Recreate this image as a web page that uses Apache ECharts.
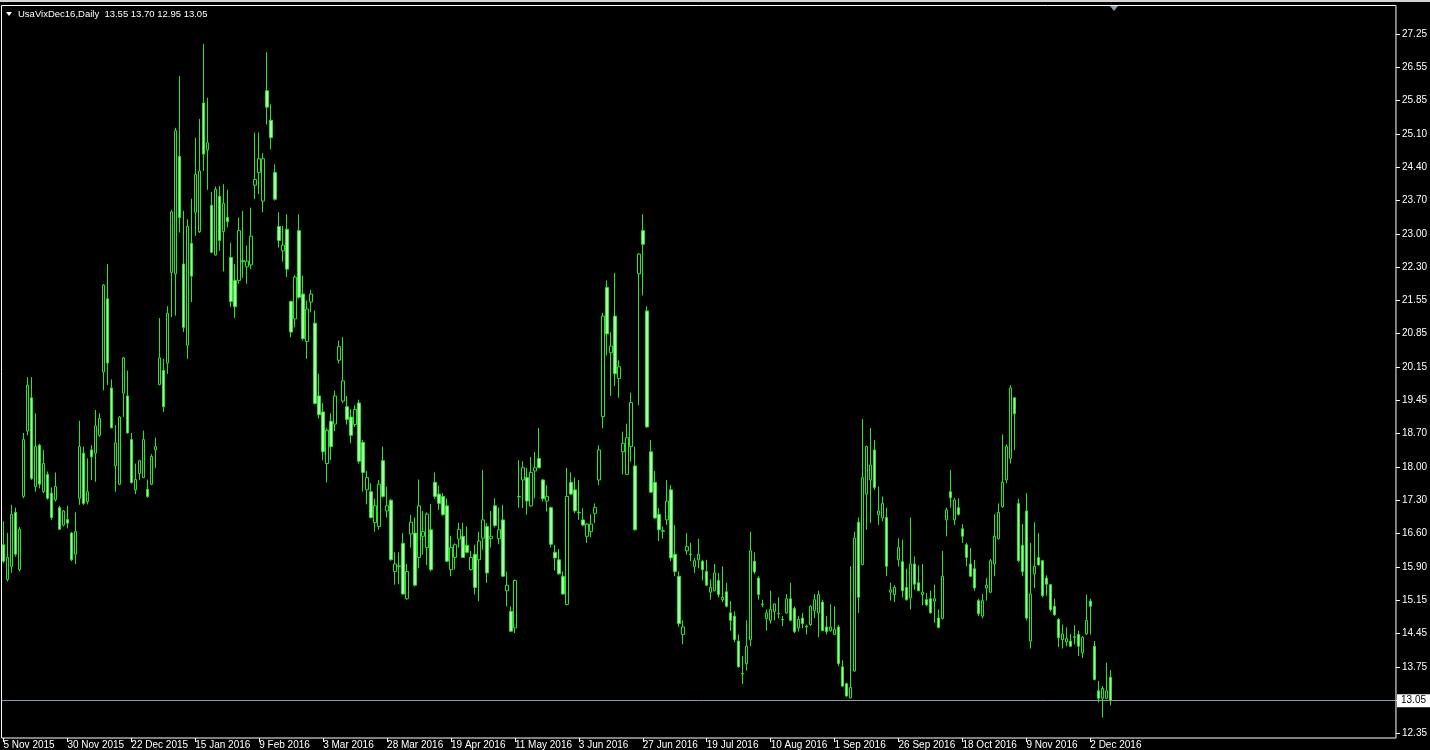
<!DOCTYPE html>
<html><head><meta charset="utf-8">
<script src="https://cdn.jsdelivr.net/npm/echarts@6/dist/echarts.min.js"></script>
<style>html,body{margin:0;padding:0;background:#000;overflow:hidden}#c{width:1430px;height:750px}</style>
</head><body><div id="c"></div>
<script>
const symbolName = 'UsaVixDec16,Daily';
const xTickLabels = ['5 Nov 2015','30 Nov 2015','22 Dec 2015','15 Jan 2016','9 Feb 2016','3 Mar 2016','28 Mar 2016','19 Apr 2016','11 May 2016','3 Jun 2016','27 Jun 2016','19 Jul 2016','10 Aug 2016','1 Sep 2016','26 Sep 2016','18 Oct 2016','9 Nov 2016','2 Dec 2016'];
const barsPerLabel = 16;
const yTickLabels = ['12.35','13.05','13.75','14.45','15.15','15.90','16.60','17.30','18.00','18.70','19.45','20.15','20.85','21.55','22.30','23.00','23.70','24.40','25.10','25.85','26.55','27.25'];

const openV = [
16.37,15.63,15.91,17.06,15.84,17.40,18.79,19.50,17.61,18.49,
17.50,17.87,17.47,17.33,17.16,16.79,16.91,16.62,16.17,17.36,
18.32,17.29,18.39,18.32,18.70,20.05,21.61,19.71,18.05,17.66,
19.60,19.54,18.61,17.54,17.89,17.80,17.55,17.66,18.39,19.78,
20.08,20.24,22.17,22.14,24.64,22.35,20.62,22.79,23.45,23.04,
25.78,24.78,23.60,22.54,23.79,23.04,23.34,22.49,22.00,22.00,
22.42,22.29,22.33,24.03,24.30,23.69,26.04,25.41,24.30,23.15,
22.63,23.09,21.55,21.18,23.06,21.71,20.70,21.54,21.09,19.54,
19.20,18.10,19.00,18.94,20.30,19.43,19.31,19.09,18.93,19.39,
18.55,17.54,17.50,16.84,16.76,18.16,17.09,17.32,15.80,15.92,
16.40,15.22,16.60,16.62,16.10,16.55,16.31,16.69,17.70,17.45,
17.40,17.20,15.84,16.10,16.49,16.55,16.36,15.84,16.17,16.05,
16.51,16.76,16.50,17.20,16.50,16.90,15.39,14.95,14.60,17.40,
17.75,17.80,17.20,17.94,18.21,17.75,17.30,17.16,16.21,16.05,
15.70,15.10,17.70,17.54,17.06,16.90,16.55,16.65,17.04,17.75,
19.10,21.85,20.46,21.24,19.91,18.35,17.87,18.46,18.05,22.14,
23.06,21.35,18.35,17.70,17.02,16.67,16.90,17.54,16.17,15.70,
14.46,16.24,16.17,15.91,16.05,16.02,15.80,15.36,15.39,15.61,
15.20,15.37,14.92,14.85,14.32,13.63,13.84,14.35,16.02,15.66,
15.11,14.80,14.76,14.95,14.90,14.78,14.92,15.22,15.01,14.60,
14.81,14.63,14.67,14.97,14.92,15.15,14.62,14.54,14.46,14.62,
13.77,13.41,13.11,13.68,16.85,15.95,17.45,17.75,18.39,17.01,
16.94,16.95,15.36,15.31,16.05,16.01,15.46,15.24,15.96,15.56,
15.31,15.20,15.22,15.17,14.81,14.80,16.90,17.50,16.90,17.16,
16.71,16.37,15.96,15.86,15.18,14.85,15.45,15.36,15.96,16.50,
17.18,17.75,18.21,19.50,17.25,16.36,17.09,14.32,15.75,16.10,
16.03,15.66,15.52,15.06,14.78,14.35,14.30,14.32,14.41,14.46,
14.07,14.47,15.17,14.21,13.26,13.10,13.10,13.55];

const highV = [
16.87,16.62,17.22,17.16,16.75,18.75,19.94,19.94,19.17,18.52,
18.39,17.93,17.59,17.91,17.20,17.11,17.20,16.64,17.06,19.01,
18.46,18.21,18.49,19.24,19.17,21.92,22.35,19.89,18.92,19.11,
20.37,20.08,18.75,18.10,18.18,18.80,17.76,18.30,18.65,21.20,
20.33,21.45,23.50,25.25,26.35,23.48,23.30,23.74,25.04,25.44,
27.04,25.89,23.88,24.00,24.01,24.05,23.93,22.80,22.35,23.34,
23.48,22.74,23.55,25.15,25.15,24.71,26.86,25.75,24.47,23.45,
23.16,23.41,21.57,22.11,23.41,22.10,21.57,21.80,21.36,20.01,
19.39,18.85,19.17,19.65,20.72,20.79,19.54,19.26,19.34,19.46,
18.60,17.94,17.68,17.35,17.75,18.46,17.61,17.34,16.21,16.21,
16.62,15.96,17.01,16.95,17.76,17.09,17.06,17.24,17.91,17.63,
17.47,17.36,16.56,16.40,16.84,16.84,16.76,16.24,16.37,16.65,
17.96,16.83,17.09,17.36,17.16,17.22,15.80,15.06,15.63,18.17,
18.15,18.01,18.24,18.35,18.86,17.77,17.64,17.18,16.36,16.28,
15.80,18.01,17.91,17.80,17.75,17.15,16.83,17.02,17.25,18.49,
21.31,22.00,20.90,22.16,20.30,18.78,18.95,19.61,18.46,22.58,
23.41,21.45,18.60,17.94,17.15,16.76,17.75,17.64,16.79,15.80,
14.76,16.62,16.41,16.09,16.50,16.05,16.05,15.63,15.96,15.77,
15.91,15.56,15.17,14.95,14.46,14.00,14.76,16.65,16.21,15.70,
15.20,14.99,15.39,15.12,15.25,14.85,15.32,15.56,15.06,14.85,
14.92,14.67,15.08,15.32,15.39,15.20,14.85,15.10,15.06,14.66,
13.91,13.43,15.91,16.65,16.95,19.05,18.48,18.86,18.60,17.61,
17.40,17.16,15.56,15.51,16.51,16.48,15.86,16.95,16.12,15.93,
15.96,15.34,15.39,15.52,14.99,16.24,17.16,17.96,17.37,17.36,
16.81,16.41,16.30,16.05,15.22,15.32,15.66,16.07,17.02,17.25,
18.72,18.51,19.77,19.52,17.35,16.81,17.47,16.41,16.85,16.62,
16.05,15.72,15.53,15.22,14.81,14.67,14.61,14.47,14.66,14.54,
14.42,15.31,15.22,14.32,13.47,13.36,13.86,13.70];

const lowV = [
15.98,15.59,15.77,16.12,15.80,17.36,18.70,17.75,17.50,17.57,
17.47,17.33,16.90,17.29,16.69,16.76,16.72,16.02,15.96,17.22,
17.22,17.23,17.75,17.71,18.67,19.66,19.77,18.85,17.50,17.64,
19.09,18.74,17.68,17.45,17.75,17.79,17.37,17.64,18.01,19.77,
19.20,20.01,21.22,21.25,23.02,20.90,20.33,21.54,22.95,23.01,
24.33,23.93,22.58,22.53,22.63,22.19,23.13,21.43,21.20,21.93,
22.05,21.93,22.24,23.73,23.84,23.45,25.32,24.79,23.70,22.70,
22.40,22.07,20.79,21.00,21.61,20.72,20.33,21.32,19.36,19.06,
18.17,17.70,18.17,18.79,20.23,19.38,18.93,18.53,18.88,18.10,
17.50,17.23,16.93,16.65,16.69,17.37,16.95,16.03,15.52,15.53,
15.31,15.20,16.31,15.48,15.87,16.16,15.94,15.80,17.35,17.11,
16.99,16.00,15.70,15.84,16.31,16.09,16.19,15.82,15.31,15.17,
16.26,15.56,16.31,16.74,16.38,15.68,15.06,14.52,14.49,17.16,
17.15,17.01,17.18,17.36,18.00,17.29,17.08,16.31,15.82,15.73,
15.31,15.08,17.43,17.04,16.90,16.76,16.41,16.53,16.83,17.64,
18.85,20.40,19.54,19.75,19.50,17.87,17.86,18.14,16.67,19.34,
21.68,18.86,17.47,16.92,16.45,16.50,16.79,16.02,15.70,14.62,
14.25,16.16,16.02,15.77,15.87,15.61,15.49,15.20,15.38,15.25,
15.15,15.04,14.54,14.30,13.75,13.40,13.69,14.21,15.75,15.20,
15.04,14.54,14.69,14.76,14.80,14.64,14.90,14.74,14.49,14.52,
14.59,14.46,14.64,14.81,14.40,14.53,14.46,14.52,14.45,13.79,
13.34,13.13,13.10,13.67,14.92,15.93,16.69,16.83,17.54,16.79,
16.87,15.70,15.18,15.15,15.91,15.25,15.18,14.99,15.41,15.38,
15.08,15.06,14.90,14.71,14.59,14.78,16.55,17.16,16.79,16.99,
16.41,15.91,15.68,15.39,14.85,14.80,15.18,15.34,15.70,16.48,
17.16,17.68,18.10,18.39,16.00,15.70,14.76,14.16,15.45,15.93,
15.25,15.29,14.95,14.85,14.19,14.16,14.21,14.19,14.25,14.00,
13.96,14.45,14.46,13.48,13.01,12.69,13.08,12.95];

const closeV = [
16.02,16.10,17.02,16.17,16.70,18.61,19.77,17.78,18.46,17.66,
18.10,17.36,16.95,17.61,16.70,17.09,16.83,16.05,16.65,18.46,
17.25,17.50,18.24,18.90,19.06,21.90,20.24,18.86,18.54,19.09,
20.35,18.75,17.69,17.76,18.16,18.61,17.40,18.25,18.46,20.35,
19.31,21.30,23.46,25.19,23.34,21.00,23.15,22.09,24.26,24.33,
24.69,24.93,22.60,23.94,22.85,23.64,23.25,21.55,21.44,23.06,
22.40,22.41,22.94,24.15,24.59,24.59,25.69,25.04,23.73,22.85,
22.75,22.24,20.90,22.07,21.64,20.76,21.39,21.71,19.38,19.14,
18.35,18.81,18.46,19.54,20.59,19.86,19.04,18.70,19.25,18.15,
17.91,17.80,16.95,17.20,17.66,17.40,17.20,16.05,15.96,15.91,
15.32,15.80,16.85,15.51,17.20,16.65,17.02,15.84,17.40,17.25,
17.01,16.02,16.31,16.37,16.70,16.10,16.21,16.10,15.46,16.45,
16.90,15.77,16.55,16.78,16.69,15.70,15.51,14.53,15.61,17.39,
18.01,17.30,17.91,18.01,18.01,17.35,17.40,16.38,16.09,15.75,
15.32,17.40,17.45,17.09,17.05,16.79,16.81,16.81,17.16,18.39,
21.24,20.86,20.60,20.01,20.16,18.53,18.65,19.40,16.69,22.56,
22.77,18.88,17.49,16.94,16.69,16.66,17.30,16.09,15.80,14.69,
14.62,16.33,16.16,16.03,16.17,15.84,15.51,15.46,15.77,15.31,
15.25,15.06,14.76,14.35,13.77,13.62,14.21,16.24,15.79,15.31,
15.10,14.92,14.99,15.11,14.91,14.77,15.22,14.76,14.52,14.78,
14.69,14.62,15.06,15.20,15.31,14.54,14.52,14.62,14.57,13.84,
13.36,13.15,13.33,16.51,15.25,17.80,18.46,18.07,17.59,17.09,
17.25,15.91,15.41,15.46,16.31,15.39,15.20,15.96,15.53,15.39,
15.36,15.09,14.92,15.22,14.61,15.70,17.11,17.37,17.32,17.02,
16.55,16.10,15.70,15.45,14.90,15.18,15.51,16.03,16.55,17.06,
17.70,18.46,19.71,19.16,16.03,15.80,14.81,15.32,15.91,15.94,
15.29,15.53,14.99,14.88,14.39,14.47,14.37,14.21,14.40,14.21,
14.40,14.76,15.06,13.50,13.10,13.31,13.26,13.05];

const N = openV.length;
const totalSlots = 349;              // chart keeps empty space to the right
const categories = Array.from({length: totalSlots}, (_, i) => String(i));
const candleData = openV.map((o, i) => [o, closeV[i], lowV[i], highV[i]]);

const yLow = parseFloat(yTickLabels[0]);
const yHigh = parseFloat(yTickLabels[yTickLabels.length - 1]);
const yStep = (yHigh - yLow) / (yTickLabels.length - 1);
const yTickValues = yTickLabels.map((_, k) => yLow + k * yStep);

// layout
const gridTop = 5.5, gridHeight = 735, gridLeft = 1.5, gridWidth = 1396;
const pxPerUnit = 702 / (yHigh - yLow);
const yMin = yLow - 4.5 / pxPerUnit;
const yMax = yMin + gridHeight / pxPerUnit;

const FONT = 'Liberation Sans, Arial, sans-serif';
const isLabelIdx = (i) => i % barsPerLabel === 0 && i / barsPerLabel < xTickLabels.length;

const last = N - 1;
const titleText = symbolName + '  ' + [openV[last], highV[last], lowV[last], closeV[last]].map(v => v.toFixed(2)).join(' ');

const chart = echarts.init(document.getElementById('c'), null, {renderer: 'canvas'});
chart.setOption({
  animation: false,
  backgroundColor: '#000',
  grid: {left: gridLeft, top: gridTop, width: gridWidth, height: gridHeight, show: true,
         borderColor: '#ffffff', borderWidth: 1, backgroundColor: '#000'},
  xAxis: {
    type: 'category', data: categories, boundaryGap: true,
    axisLine: {show: false},
    axisTick: {show: true, alignWithLabel: true, length: 4, interval: (i) => isLabelIdx(i),
               lineStyle: {color: '#ffffff'}},
    axisLabel: {show: true, interval: (i) => isLabelIdx(i), align: 'left', margin: 2,
                color: '#ffffff', fontSize: 10, fontFamily: FONT,
                formatter: (v) => { const i = Number(v); return isLabelIdx(i) ? xTickLabels[i / barsPerLabel] : ''; }},
    splitLine: {show: false}
  },
  yAxis: {
    type: 'value', position: 'right', min: yMin, max: yMax, scale: true,
    axisLine: {show: false},
    splitLine: {show: false},
    axisTick: {show: true, length: 4, customValues: yTickValues, lineStyle: {color: '#ffffff'}},
    axisLabel: {show: true, customValues: yTickValues, margin: 6, color: '#ffffff', fontSize: 10, fontFamily: FONT,
                formatter: (v) => yTickLabels[Math.round((v - yLow) / yStep)] || ''}
  },
  series: [{
    type: 'candlestick',
    data: candleData,
    barWidth: 3,
    itemStyle: {color: '#000000', color0: '#a6f7a6', borderColor: '#26e626', borderColor0: '#26e626', borderWidth: 1},
    markLine: {
      silent: true, symbol: ['none', 'none'],
      lineStyle: {color: '#8a9bb0', width: 1, type: 'solid'},
      label: {show: true, position: 'end', distance: 1, formatter: (p) => Number(p.value).toFixed(2),
              backgroundColor: '#ffffff', color: '#000000', fontSize: 10, fontFamily: FONT,
              padding: [2, 4, 1, 4]},
      data: [{yAxis: closeV[last]}]
    }
  }],
  graphic: [
    {type: 'rect', left: 0, top: 0, shape: {width: 1430, height: 2}, style: {fill: '#d4d4d4'}, silent: true},
    {type: 'polygon', shape: {points: [[6, 12], [12, 12], [9, 16]]}, style: {fill: '#ffffff'}, silent: true},
    {type: 'text', left: 18, top: 9, style: {text: titleText, fill: '#ffffff', font: '9.5px ' + FONT}, silent: true},
    {type: 'polygon', shape: {points: [[1110, 6], [1118, 6], [1114, 11]]}, style: {fill: '#8c9cb0'}, silent: true}
  ]
});
</script>
</body></html>
